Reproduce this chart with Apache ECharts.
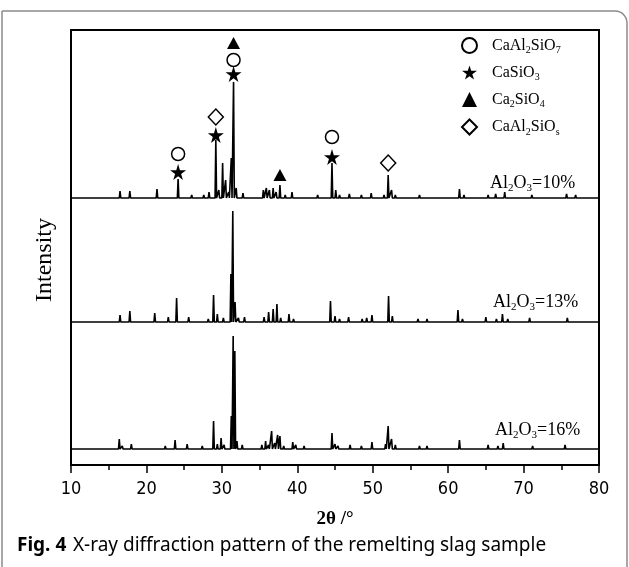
<!DOCTYPE html>
<html>
<head>
<meta charset="utf-8">
<script src="https://cdn.jsdelivr.net/npm/echarts@6.0.0/dist/echarts.min.js"></script>
<style>
  html, body { margin: 0; padding: 0; background: #fff; }
  #chart { width: 629px; height: 567px; }
</style>
</head>
<body>
<div id="chart"></div>
<script>
// x axis ticks (2θ, degrees)
const xTicks = [10, 20, 30, 40, 50, 60, 70, 80]

// vertical offsets of the three stacked patterns (arbitrary intensity units)
const offset10 = 267
const offset13 = 143
const offset16 = 16

// peaks: [2θ, height above the trace baseline]
const peaks10 = [
  [12.0, 1], [13.5, 1], [14.6, 1.5], [16.5, 7], [17.8, 7], [19.4, 1.5], [20.2, 1], [21.4, 9],
  [22.6, 2], [23.3, 1.5], [24.2, 19], [25.0, 2], [26.0, 3], [26.8, 2], [27.6, 3], [28.3, 6],
  [29.2, 58], [29.6, 8], [30.1, 35], [30.5, 18], [30.9, 6], [31.25, 40], [31.55, 116], [31.9, 10],
  [32.8, 5], [33.5, 1.5], [34.3, 1], [35.5, 8], [35.9, 10], [36.3, 8], [36.8, 10], [37.2, 6],
  [37.7, 13], [38.4, 3], [39.3, 6], [39.8, 2], [40.7, 1.5], [41.6, 2], [42.7, 3], [43.5, 2],
  [44.6, 35], [45.1, 8], [45.6, 3], [46.9, 4], [47.5, 2], [48.5, 3], [49.2, 2], [49.8, 5],
  [50.4, 2], [51.5, 3], [52.05, 23], [52.5, 8], [53.0, 3], [54.0, 1.5], [55.2, 2], [56.2, 3],
  [57.2, 2], [58.3, 1.5], [59.4, 1.5], [60.4, 2], [61.5, 9], [62.1, 3], [63.0, 2], [64.2, 2],
  [65.3, 3], [66.3, 4], [66.9, 2], [67.5, 6], [68.4, 2], [69.3, 2], [70.2, 1.5], [71.1, 3],
  [72.0, 2], [73.0, 2], [74.1, 2], [74.8, 1.5], [75.7, 4], [76.9, 3], [78.0, 1.5], [79.0, 1]
]
const peaks13 = [
  [12.3, 1], [14.0, 1], [15.5, 1.5], [16.5, 7], [17.8, 11], [19.3, 1.5], [21.1, 9], [22.0, 2],
  [22.9, 5], [24.0, 24], [24.7, 2], [25.6, 5], [26.7, 2], [27.5, 2], [28.2, 3], [28.9, 27],
  [29.4, 8], [30.2, 4], [31.2, 48], [31.45, 111], [31.75, 20], [32.2, 4], [33.0, 5], [33.8, 2],
  [34.8, 2], [35.6, 5], [36.2, 10], [36.8, 13], [37.3, 18], [37.8, 4], [38.9, 8], [39.5, 3],
  [40.5, 2], [41.7, 2], [42.9, 2], [44.4, 21], [45.0, 6], [45.6, 3], [46.8, 5], [47.6, 2],
  [48.6, 3], [49.2, 4], [49.9, 7], [50.8, 2], [52.1, 26], [52.6, 6], [53.3, 2], [54.6, 2],
  [56.0, 3], [57.2, 3], [58.5, 2], [59.7, 2], [61.3, 12], [61.9, 3], [63.2, 2], [64.3, 2],
  [65.0, 5], [65.8, 2], [66.4, 3], [67.2, 8], [67.9, 3], [68.9, 2], [70.0, 2], [70.8, 4],
  [71.8, 2], [73.0, 2], [74.2, 2], [75.1, 2], [75.8, 4], [76.5, 2], [77.5, 2], [78.8, 1]
]
const peaks16 = [
  [12.0, 1], [13.4, 1], [14.5, 1], [16.4, 10], [16.8, 3], [18.0, 5], [19.2, 1.5], [20.7, 2],
  [21.6, 1.5], [22.5, 3], [23.8, 9], [24.7, 2], [25.4, 5], [26.4, 2], [27.4, 3], [28.0, 2],
  [28.9, 28], [29.4, 5], [29.9, 11], [30.3, 4], [31.25, 33], [31.5, 113], [31.72, 98], [32.0, 8],
  [32.7, 4], [33.6, 1.5], [34.5, 1.5], [35.3, 4], [35.8, 8], [36.2, 4], [36.6, 18], [37.0, 6],
  [37.4, 14], [37.7, 13], [38.2, 3], [39.4, 7], [39.8, 4], [40.9, 3], [41.8, 2], [42.9, 2],
  [44.6, 16], [45.0, 5], [45.4, 3], [46.2, 2], [47.0, 4], [47.8, 2], [48.5, 3], [49.2, 2],
  [49.9, 7], [50.5, 2], [51.7, 5], [52.05, 23], [52.5, 10], [53.0, 4], [53.6, 2], [54.6, 1.5],
  [55.3, 2], [56.2, 3], [57.2, 3], [58.2, 1.5], [59.3, 1.5], [60.1, 2], [61.5, 9], [62.1, 2],
  [63.3, 2], [64.3, 1.5], [65.3, 4], [66.0, 2], [66.6, 3], [67.3, 6], [68.0, 2], [68.9, 1.5],
  [69.9, 1.5], [71.2, 3], [72.2, 1.5], [73.3, 2], [74.4, 2], [75.5, 4], [76.8, 2], [78.2, 1.5],
  [79.4, 1]
]

// phase markers above the 10% pattern: [2θ, intensity]
const circleMarks = [[24.2, 311], [31.55, 405], [44.6, 328]]
const starMarks = [[24.2, 293], [29.2, 330], [31.55, 391], [44.6, 308]]
const triangleMarks = [[31.55, 422], [37.7, 290]]
const diamondMarks = [[29.2, 348], [52.05, 302]]

// legend entries: name -> rich text parts
const phaseNames = ['CaAl2SiO7', 'CaSiO3', 'Ca2SiO4', 'CaAl2SiOs']
const phaseLabels = [
  '{g| }{b|CaAl}{s|2}{b|SiO}{s|7}',
  '{g| }{b|CaSiO}{s|3}',
  '{g| }{b|Ca}{s|2}{b|SiO}{s|4}',
  '{g| }{b|CaAl}{s|2}{b|SiO}{s|s}'
]

const serif = "'Liberation Serif', 'DejaVu Serif', serif"
const narrow = "'DejaVu Sans Condensed', 'Liberation Sans', sans-serif"
const STAR = 'path://M50,0 L61,35 L98,35 L68,57 L79,91 L50,70 L21,91 L32,57 L2,35 L39,35 Z'

// peak list -> polyline points (each peak drawn as a narrow spike)
const buildTrace = (peaks, base) => {
  const w = 0.1
  const pts = [[10.1, base]]
  peaks.slice().sort((a, b) => a[0] - b[0]).forEach(p => {
    pts.push([p[0] - w, base], [p[0], base + p[1]], [p[0] + w, base])
  })
  pts.push([80, base])
  return pts
}

const subRich = {
  b: { fontFamily: serif, fontSize: 18, color: '#000' },
  s: { fontFamily: serif, fontSize: 11, color: '#000', padding: [10, 0, 0, 0] }
}

const chart = echarts.init(document.getElementById('chart'), null, { renderer: 'canvas' })

const traceSeries = (data) => ({
  type: 'line',
  data: data,
  showSymbol: false,
  symbol: 'none',
  lineStyle: { color: '#000', width: 1.6 },
  silent: true,
  z: 2
})

const markSeries = (name, data, symbol, size, filled) => ({
  name: name,
  type: 'scatter',
  data: data,
  symbol: symbol,
  symbolSize: size,
  itemStyle: {
    color: filled ? '#000' : '#fff',
    borderColor: '#000',
    borderWidth: filled ? 0 : 1.5,
    opacity: 1
  },
  z: 5
})

const option = {
  animation: false,
  backgroundColor: '#fff',
  grid: {
    left: 71, right: 30, top: 30, bottom: 102,
    show: true, borderColor: '#000', borderWidth: 2
  },
  legend: {
    data: phaseNames,
    orient: 'vertical',
    left: 456, top: 32,
    itemWidth: 15, itemHeight: 15,
    itemGap: 9,
    selectedMode: false,
    formatter: name => phaseLabels[phaseNames.indexOf(name)],
    textStyle: {
      rich: {
        g: { width: 10 },
        b: { fontFamily: serif, fontSize: 16, color: '#000' },
        s: { fontFamily: serif, fontSize: 10, color: '#000', padding: [10, 0, 0, 0] }
      }
    }
  },
  xAxis: {
    type: 'value',
    min: 10, max: 80, interval: 10,
    name: '2θ /°',
    nameLocation: 'middle',
    nameGap: 45,
    nameTextStyle: { fontFamily: serif, fontSize: 19, fontWeight: 'bold', color: '#000' },
    axisLine: { lineStyle: { color: '#000', width: 2 } },
    axisTick: { length: 8, lineStyle: { color: '#000', width: 1.5 } },
    minorTick: { show: true, splitNumber: 2, length: 5, lineStyle: { color: '#000', width: 1.5 } },
    splitLine: { show: false },
    axisLabel: {
      color: '#000', fontFamily: narrow, fontSize: 18, margin: 15,
      formatter: v => xTicks.includes(v) ? String(v) : ''
    }
  },
  yAxis: {
    type: 'value',
    min: 0, max: 435,
    axisLine: { show: false },
    axisTick: { show: false },
    axisLabel: { show: false },
    splitLine: { show: false }
  },
  series: [
    traceSeries(buildTrace(peaks10, offset10)),
    traceSeries(buildTrace(peaks13, offset13)),
    traceSeries(buildTrace(peaks16, offset16)),
    markSeries(phaseNames[0], circleMarks, 'circle', 13, false),
    markSeries(phaseNames[1], starMarks, STAR, 16, true),
    markSeries(phaseNames[2], triangleMarks, 'triangle', [13, 12], true),
    markSeries(phaseNames[3], diamondMarks, 'diamond', [15, 16], false)
  ],
  graphic: [
    // outer figure frame
    {
      type: 'rect',
      shape: { x: 2, y: 11, width: 625, height: 620, r: [0, 12, 0, 0] },
      style: { fill: 'none', stroke: '#8a8a8a', lineWidth: 1.5 },
      silent: true
    },
    {
      type: 'text', x: 45, y: 260, rotation: Math.PI / 2,
      style: {
        text: 'Intensity', align: 'center', verticalAlign: 'middle',
        font: '24px ' + serif, fill: '#000'
      }
    },
    {
      type: 'text', x: 490, y: 183,
      style: { text: '{b|Al}{s|2}{b|O}{s|3}{b|=10%}', rich: subRich, verticalAlign: 'middle' }
    },
    {
      type: 'text', x: 493, y: 302,
      style: { text: '{b|Al}{s|2}{b|O}{s|3}{b|=13%}', rich: subRich, verticalAlign: 'middle' }
    },
    {
      type: 'text', x: 495, y: 430,
      style: { text: '{b|Al}{s|2}{b|O}{s|3}{b|=16%}', rich: subRich, verticalAlign: 'middle' }
    },
    {
      type: 'text', x: 17, y: 546,
      style: {
        text: '{f|Fig. 4}  {t|X-ray diffraction pattern of the remelting slag sample}',
        verticalAlign: 'middle',
        rich: {
          f: { fontFamily: "'Noto Sans', sans-serif", fontSize: 19, fontWeight: 'bold', color: '#1a1a1a' },
          t: { fontFamily: "'Noto Sans', sans-serif", fontSize: 19, color: '#1a1a1a' }
        }
      }
    }
  ]
}

chart.setOption(option)
</script>
</body>
</html>
